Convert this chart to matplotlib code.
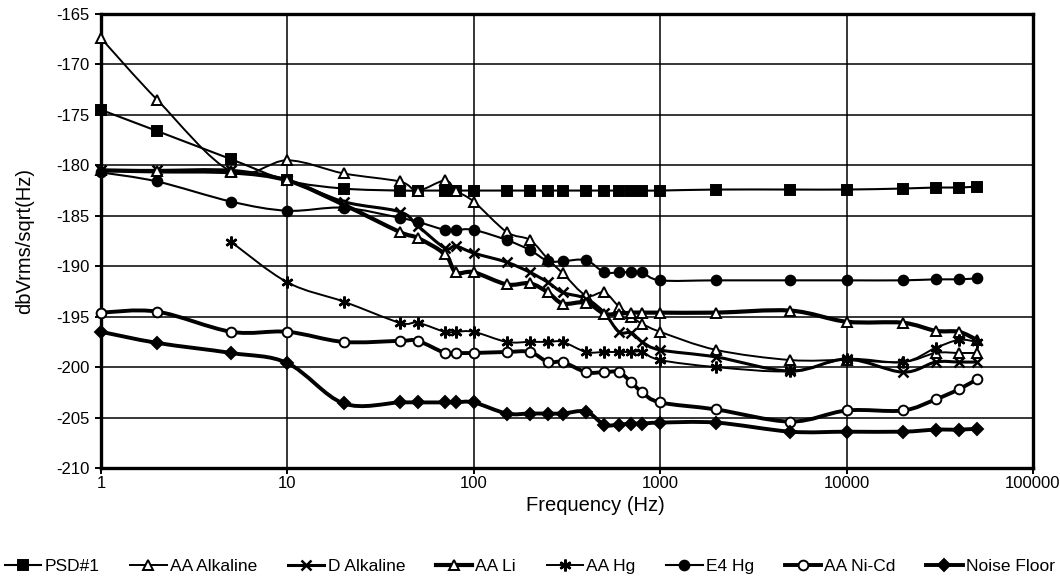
import numpy as np
import matplotlib
matplotlib.use("Agg")
import matplotlib.pyplot as plt
from matplotlib.path import Path
from matplotlib.patches import PathPatch
from matplotlib.lines import Line2D

plt.rcParams['font.family'] = ['Liberation Sans', 'DejaVu Sans']

freq = [1, 2, 5, 10, 20, 40, 50, 70, 80, 100, 150, 200, 250, 300, 400, 500,
        600, 700, 800, 1000, 2000, 5000, 10000, 20000, 30000, 40000, 50000]

psd1 = [-174.5, -176.6, -179.4, -181.5, -182.3, -182.5, -182.5, -182.5, -182.5, -182.5,
        -182.5, -182.5, -182.5, -182.5, -182.5, -182.5, -182.5, -182.5, -182.5, -182.5,
        -182.4, -182.4, -182.4, -182.3, -182.2, -182.2, -182.1]
aa_alkaline = [-167.4, -173.5, -180.6, -179.5, -180.8, -181.6, -182.5, -181.5, -182.5, -183.6,
               -186.6, -187.4, -189.3, -190.7, -192.9, -192.6, -194.0, -195.0, -195.7, -196.5,
               -198.3, -199.3, -199.3, -199.5, -198.6, -198.6, -198.6]
d_alkaline = [-180.5, -180.5, -180.5, -181.5, -183.6, -184.6, -186.0, -188.2, -188.0, -188.7,
              -189.6, -190.6, -191.6, -192.6, -193.2, -194.6, -196.5, -196.6, -197.5, -198.3,
              -199.0, -200.4, -199.2, -200.5, -199.5, -199.5, -199.5]
aa_li = [-180.5, -180.6, -180.7, -181.5, -183.9, -186.6, -187.2, -188.8, -190.6, -190.6,
         -191.8, -191.7, -192.6, -193.7, -193.6, -194.7, -194.7, -194.6, -194.6, -194.6,
         -194.6, -194.4, -195.5, -195.6, -196.4, -196.5, -197.3]
aa_hg_freq = freq[2:]
aa_hg = [-187.6, -191.6, -193.5, -195.6, -195.6, -196.5, -196.5, -196.5,
         -197.5, -197.5, -197.5, -197.5, -198.5, -198.5, -198.5, -198.5, -198.5, -199.3,
         -200.0, -200.4, -199.2, -199.5, -198.1, -197.3, -197.5]
e4_hg = [-180.7, -181.6, -183.6, -184.5, -184.2, -185.2, -185.6, -186.4, -186.4, -186.4,
         -187.4, -188.4, -189.5, -189.5, -189.4, -190.6, -190.6, -190.6, -190.6, -191.4,
         -191.4, -191.4, -191.4, -191.4, -191.3, -191.3, -191.2]
aa_nicd = [-194.6, -194.5, -196.5, -196.5, -197.5, -197.4, -197.4, -198.6, -198.6, -198.6,
           -198.5, -198.5, -199.5, -199.5, -200.5, -200.5, -200.5, -201.5, -202.5, -203.5,
           -204.2, -205.4, -204.3, -204.3, -203.2, -202.2, -201.2]
noise_floor = [-196.5, -197.6, -198.6, -199.6, -203.6, -203.5, -203.5, -203.5, -203.5, -203.5,
               -204.6, -204.6, -204.6, -204.6, -204.4, -205.7, -205.7, -205.6, -205.6, -205.5,
               -205.5, -206.4, -206.4, -206.4, -206.2, -206.2, -206.1]

series_names = ["PSD#1", "AA Alkaline", "D Alkaline", "AA Li", "AA Hg", "E4 Hg", "AA Ni-Cd", "Noise Floor"]

y_ticks = [-165, -170, -175, -180, -185, -190, -195, -200, -205, -210]
x_ticks = [1, 10, 100, 1000, 10000, 100000]
x_tick_labels = ["1", "10", "100", "1000", "10000", "100000"]

styles = [
    # (x, y, marker, markersize, mfc, linewidth)
    (freq, psd1, 's', 7.5, 'black', 1.5),
    (freq, aa_alkaline, '^', 7, 'white', 1.4),
    (freq, d_alkaline, 'x', 7.5, 'black', 2.2),
    (freq, aa_li, '^', 7, 'white', 3.0),
    (aa_hg_freq, aa_hg, (6, 2, 0), 8.5, 'black', 1.4),
    (freq, e4_hg, 'o', 7, 'black', 1.5),
    (freq, aa_nicd, 'o', 7, 'white', 2.8),
    (freq, noise_floor, 'D', 6, 'black', 2.8),
]


def smooth_path(xs, ys):
    lx = np.log10(np.asarray(xs, float))
    yy = np.asarray(ys, float)
    n = len(lx)
    verts = [(lx[0], yy[0])]
    codes = [Path.MOVETO]
    for i in range(n - 1):
        p0 = (lx[max(i - 1, 0)], yy[max(i - 1, 0)])
        p1 = (lx[i], yy[i])
        p2 = (lx[i + 1], yy[i + 1])
        p3 = (lx[min(i + 2, n - 1)], yy[min(i + 2, n - 1)])
        c1 = (p1[0] + (p2[0] - p0[0]) / 6, p1[1] + (p2[1] - p0[1]) / 6)
        c2 = (p2[0] - (p3[0] - p1[0]) / 6, p2[1] - (p3[1] - p1[1]) / 6)
        verts += [c1, c2, p2]
        codes += [Path.CURVE4] * 3
    verts = [(10 ** vx, vy) for vx, vy in verts]
    return Path(verts, codes)


fig = plt.figure(figsize=(10.6, 5.86), dpi=100)
ax = fig.add_axes([101 / 1060, 1 - 468 / 586, (1033 - 101) / 1060, (468 - 14) / 586])
ax.set_xscale('log')
ax.set_xlim(1, 100000)
ax.set_ylim(-210, -165)

handles = []
for (xs, ys, mk, ms, mfc, lw), name in zip(styles, series_names):
    ax.add_patch(PathPatch(smooth_path(xs, ys), fill=False, edgecolor='black', lw=lw,
                           zorder=3, clip_on=False))
    mew = 1.8 if mk in ('x',) or isinstance(mk, tuple) else 1.4
    ax.plot(xs, ys, linestyle='none', marker=mk, markersize=ms, markerfacecolor=mfc,
            markeredgecolor='black', markeredgewidth=mew, zorder=4, clip_on=False)
    handles.append(Line2D([], [], color='black', lw=lw, marker=mk, markersize=ms,
                          markerfacecolor=mfc, markeredgecolor='black', markeredgewidth=mew))

ax.set_yticks(y_ticks)
ax.set_yticklabels([str(v) for v in y_ticks])
ax.set_xticks(x_ticks)
ax.set_xticklabels(x_tick_labels)
ax.xaxis.set_minor_locator(matplotlib.ticker.NullLocator())
ax.grid(True, which='major', color='black', linewidth=1.1)
ax.set_axisbelow(True)
for sp in ax.spines.values():
    sp.set_linewidth(2.4)
ax.tick_params(axis='both', labelsize=12, length=4, width=1.4, direction='out', pad=4)
ax.tick_params(axis='x', pad=2)
ax.set_xlabel("Frequency (Hz)", fontsize=14.5, labelpad=0)
ax.xaxis.set_label_coords(0.53, -0.062)
ax.set_ylabel("dbVrms/sqrt(Hz)", fontsize=14.5, labelpad=16)

fig.legend(handles, series_names, loc='center', bbox_to_anchor=(0.5, 1 - 566 / 586),
           ncol=8, frameon=False, fontsize=12.5, handlelength=2.1, handletextpad=0.2,
           columnspacing=1.75, borderaxespad=0)

fig.savefig("out.png", dpi=100)
